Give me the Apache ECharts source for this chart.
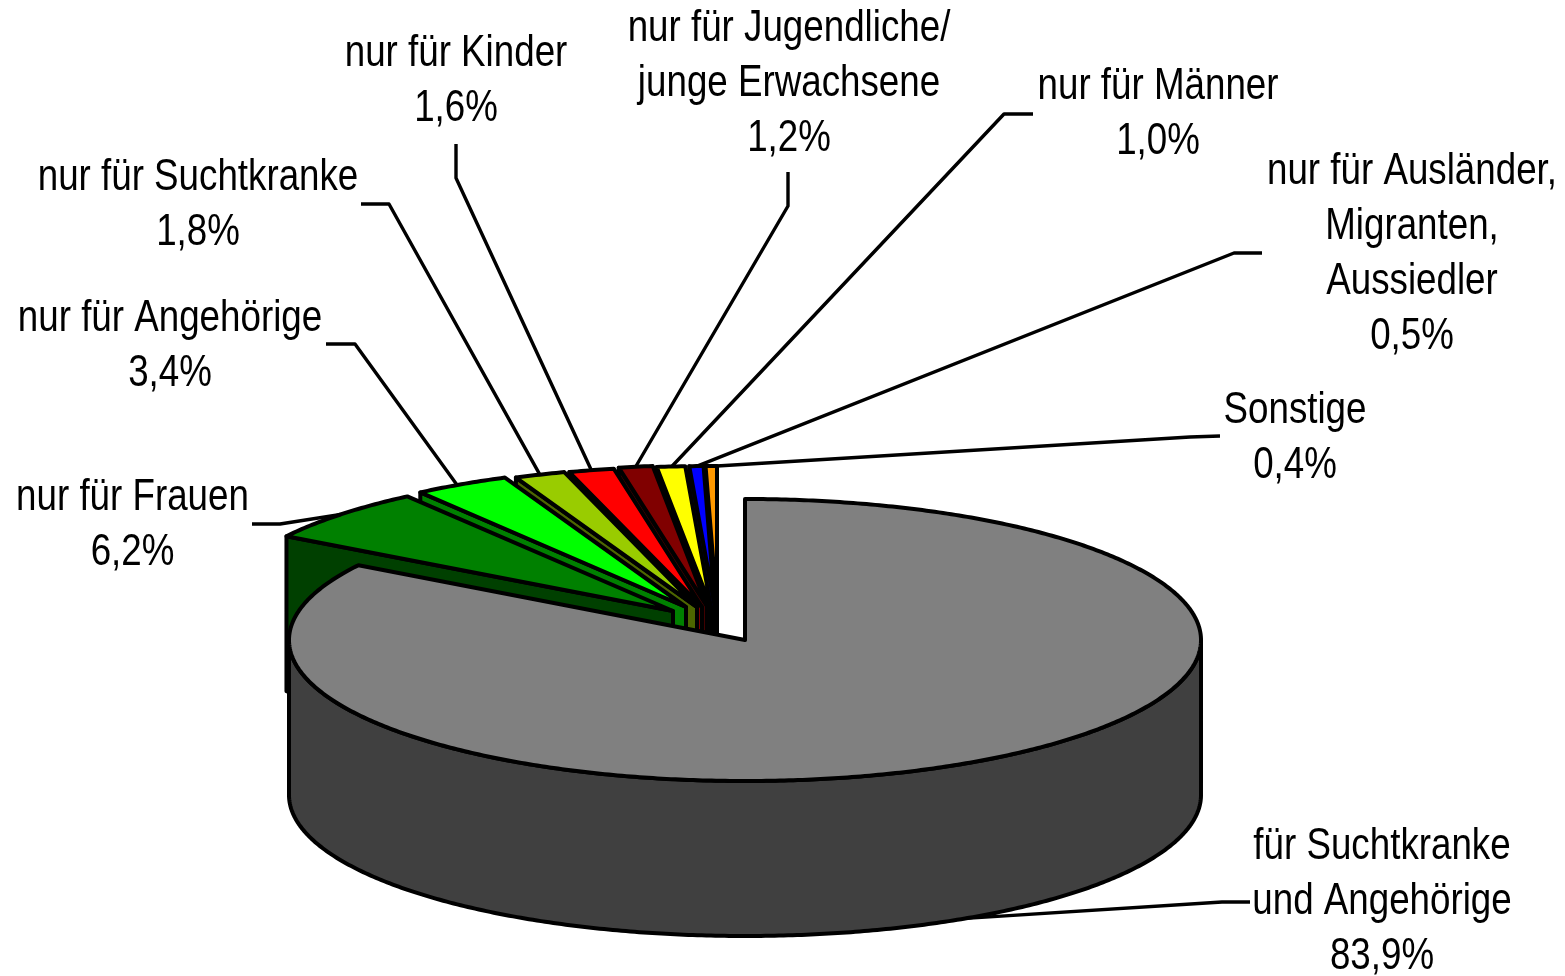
<!DOCTYPE html>
<html><head><meta charset="utf-8">
<style>html,body{margin:0;padding:0;background:#fff}#c{width:1565px;height:976px}</style>
<script src="https://cdn.jsdelivr.net/npm/echarts@6/dist/echarts.min.js"></script>
</head><body><div id="c"></div>
<script>
// --- data (clockwise from 12 o'clock)
const names = ['für Suchtkranke\nund Angehörige','nur für Frauen','nur für Angehörige','nur für Suchtkranke','nur für Kinder','nur für Jugendliche/\njunge Erwachsene','nur für Männer','nur für Ausländer,\nMigranten,\nAussiedler','Sonstige'];
const shares = [83.9,6.2,3.4,1.8,1.6,1.2,1.0,0.5,0.4];
// --- styles
const topColors  = ['#808080','#008000','#00ff00','#99cc00','#ff0000','#800000','#ffff00','#0000ff','#ff9900'];
const wallColors = ['#404040','#004000','#008000','#4d6600','#800000','#400000','#808000','#000080','#804d00'];
// --- layout
const CX=745, CY=640, RX=456, RY=141, DEPTH=155;
const explode = [[0,0],[-72,-29],[-59,-33],[-48,-33],[-43,-33],[-38,-34],[-34,-33],[-30,-33],[-28,-33]];
const labelCenterX = [1382,132.5,170,198,456,789,1158,1412,1295];
const labelBaseline = [863,514,335,194,70,45,103,188,427];
const leaderT = [0.5,0.5,0.45,0.5,0.5,0.5,0.53,0.55,1];
const leaderElbow = [[[1250,902],[1222,902]],[[252,524],[280,524]],[[326,344],[355,344]],[[361,204],[389,204]],[[456,144],[456,178]],[[788,172],[788,206]],[[1033,114],[1004,114]],[[1262,253],[1234,253]],[[1220,436],[1190,437]]];
const FONT='"Liberation Sans", Arial, sans-serif';

const starts=[]; shares.reduce((a,v,i)=>{starts[i]=a;return a+v;},0);
const total=shares.reduce((a,b)=>a+b,0);
const ang=p=>p/total*2*Math.PI;
const rim=(t,dx,dy,dz)=>[CX+dx+RX*Math.sin(t), CY+dy-RY*Math.cos(t)+(dz||0)];
function arc(a,b,dx,dy,dz){const n=Math.max(2,Math.ceil(Math.abs(b-a)/0.01));const o=[];for(let k=0;k<=n;k++)o.push(rim(a+(b-a)*k/n,dx,dy,dz));return o;}
const line={stroke:'#000',lineWidth:4,lineJoin:'round'};

function renderSlice(params,api){
  const i=api.value(2), a=ang(api.value(1)), b=a+ang(api.value(0));
  const [dx,dy]=explode[i];
  const apex=[CX+dx,CY+dy];
  const children=[];
  if(i===0){
    const tr=arc(Math.PI/2,Math.PI*1.5,0,0,0), br=arc(Math.PI*1.5,Math.PI/2,0,0,DEPTH);
    children.push({type:'polygon',shape:{points:tr.concat(br)},style:Object.assign({fill:wallColors[i]},line)});
  } else {
    const o=rim(a,dx,dy);
    children.push({type:'polygon',shape:{points:[o,apex,[apex[0],apex[1]+DEPTH],[o[0],o[1]+DEPTH]]},style:Object.assign({fill:wallColors[i]},line)});
  }
  children.push({type:'polygon',shape:{points:[apex].concat(arc(a,b,dx,dy))},style:Object.assign({fill:topColors[i]},line)});
  return {type:'group',children};
}
function renderLabel(params,api){
  const i=api.value(2), a=ang(api.value(1)), b=a+ang(api.value(0));
  const [dx,dy]=explode[i];
  const end = i===0 ? rim(a+(b-a)*leaderT[i],dx,dy,DEPTH) : rim(a+(b-a)*leaderT[i],dx,dy);
  const pct=api.value(0).toFixed(1).replace('.',',')+'%';
  return {type:'group',children:[
    {type:'polyline',shape:{points:leaderElbow[i].concat([end])},style:{fill:null,stroke:'#000',lineWidth:3.4,lineJoin:'round'}},
    {type:'text',x:labelCenterX[i],y:labelBaseline[i]-43,scaleX:0.835,scaleY:1,
     style:{text:names[i]+'\n'+pct,x:0,y:0,align:'center',verticalAlign:'top',fontFamily:FONT,fontSize:44,lineHeight:54.7,fill:'#000'}}
  ]};
}
const rows=shares.map((v,i)=>[v,starts[i],i]);
const chart=echarts.init(document.getElementById('c'),null,{renderer:'canvas'});
chart.setOption({
  animation:false,backgroundColor:'#fff',
  series:[
    {type:'custom',coordinateSystem:'none',silent:true,renderItem:renderSlice,data:rows.slice().reverse(),z:2},
    {type:'custom',coordinateSystem:'none',silent:true,renderItem:renderLabel,data:rows,z:3}
  ]
});
</script></body></html>
